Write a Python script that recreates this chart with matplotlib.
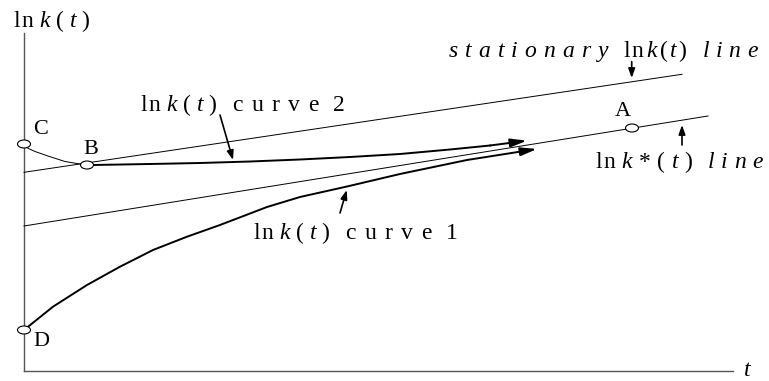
import numpy as np
import matplotlib.pyplot as plt
from matplotlib.patches import Ellipse

plt.rcParams['font.family'] = 'Liberation Serif'
plt.rcParams['mathtext.fontset'] = 'custom'
plt.rcParams['mathtext.rm'] = 'Liberation Serif'
plt.rcParams['mathtext.it'] = 'Liberation Serif:italic'

# straight lines (t, ln k at both ends)
stat_t = [0, 658]
stat_v = [198.7, 296.7]
star_t = [0, 684]
star_v = [145, 255]

# C -> B transition
cb_t = [0, 4, 11, 26, 41, 56, 63]
cb_v = [227, 222.7, 219.5, 214.3, 209.5, 207, 206]

# curve 2 (starting at B)
c2_t = [63, 69, 126, 176, 226, 276, 326, 376, 426, 466, 503]
c2_v = [206, 206, 207, 208, 209.5, 211.5, 214, 217, 221.5, 225.5, 230.3]

# curve 1 (starting at D)
c1_t = [0, 29, 63, 96, 129, 163, 196, 243, 276, 323, 376, 443, 513]
c1_v = [41, 64.3, 86, 104.3, 121, 134.3, 146, 164, 174, 184.5, 197, 211, 222]

# marked points
pts = {'C': (0, 227), 'B': (63, 206), 'D': (0, 41), 'A': (608, 243)}
pt_labels = {'C': (17, 242), 'B': (67, 221.5), 'D': (17, 30), 'A': (599, 259)}


def word(s, italic=False, gap=0.5):
    f = r'\mathit{%s}' if italic else r'\mathrm{%s}'
    return (r'\hspace{%g}' % gap).join(f % c for c in s)


def lnk(star=False, gap=0.35):
    g = r'\hspace{%g}' % gap
    s = word('ln', gap=0.1) + g + r'\mathit{k}'
    if star:
        s += g + r'\mathrm{*}'
    return s + g + r'\mathrm{(}' + g + r'\mathit{t}' + g + r'\mathrm{)}'


fig = plt.figure(figsize=(7.69, 3.81), dpi=100)
ax = fig.add_axes([0, 0, 1, 1])
ax.set_xlim(-24, 745)
ax.set_ylim(-10, 371)
ax.axis('off')

# axes
ax.plot([0, 0], [0, 338], color='#555555', lw=1.0)
ax.plot([0, 709], [0, 0], color='#555555', lw=1.0)

ax.plot(stat_t, stat_v, color='black', lw=0.7)
ax.plot(star_t, star_v, color='black', lw=0.7)
ax.plot(cb_t, cb_v, color='black', lw=0.7)

head = dict(arrowstyle='-|>,head_length=0.7,head_width=0.18', color='black',
            lw=1.4, mutation_scale=14, shrinkA=0, shrinkB=0)
ax.plot(c2_t[:-1], c2_v[:-1], color='black', lw=1.4)
ax.annotate('', xy=(c2_t[-1], c2_v[-1]), xytext=(c2_t[-2], c2_v[-2]), arrowprops=head)
ax.plot(c1_t[:-1], c1_v[:-1], color='black', lw=1.4)
ax.annotate('', xy=(c1_t[-1], c1_v[-1]), xytext=(c1_t[-2], c1_v[-2]), arrowprops=head)

for k, (x, y) in pts.items():
    ax.add_patch(Ellipse((x, y), 13, 8, facecolor='white', edgecolor='black', lw=0.8, zorder=5))
    lx, ly = pt_labels[k]
    ax.text(lx, ly, k, fontsize=16, ha='center', va='center')

# pointer arrows for the labels
ptr = dict(arrowstyle='-|>,head_length=0.5,head_width=0.18', color='black',
           lw=1.2, mutation_scale=11, shrinkA=0, shrinkB=0)
ax.annotate('', xy=(209, 211), xytext=(196, 256), arrowprops=ptr)
ax.annotate('', xy=(322.7, 181), xytext=(316, 158), arrowprops=ptr)
ax.annotate('', xy=(607.7, 293), xytext=(607.7, 309.3), arrowprops=ptr)
ax.annotate('', xy=(658, 246), xytext=(658, 226), arrowprops=ptr)

fs = 17
wide = r'\hspace{0.9}'
ax.text(-11, 350, '$' + lnk() + '$', fontsize=fs, ha='left', va='center')
ax.text(116, 260, '$' + lnk() + wide + word('curve', gap=0.5) + r'\hspace{0.8}\mathrm{2}$',
        fontsize=fs, ha='left', va='baseline')
ax.text(229, 132, '$' + lnk() + wide + word('curve', gap=0.5) + r'\hspace{0.8}\mathrm{1}$',
        fontsize=fs, ha='left', va='baseline')
ax.text(424, 314, '$' + word('stationary', True, 0.42) + wide + lnk(gap=0.15) + wide
        + word('line', True, 0.4) + '$', fontsize=fs, ha='left', va='baseline')
ax.text(571, 203, '$' + lnk(star=True, gap=0.38) + wide + word('line', True, 0.4) + '$',
        fontsize=fs, ha='left', va='baseline')
ax.text(724, -5, r'$t$', fontsize=fs, ha='center', va='baseline')

fig.savefig('out.png', dpi=100)
